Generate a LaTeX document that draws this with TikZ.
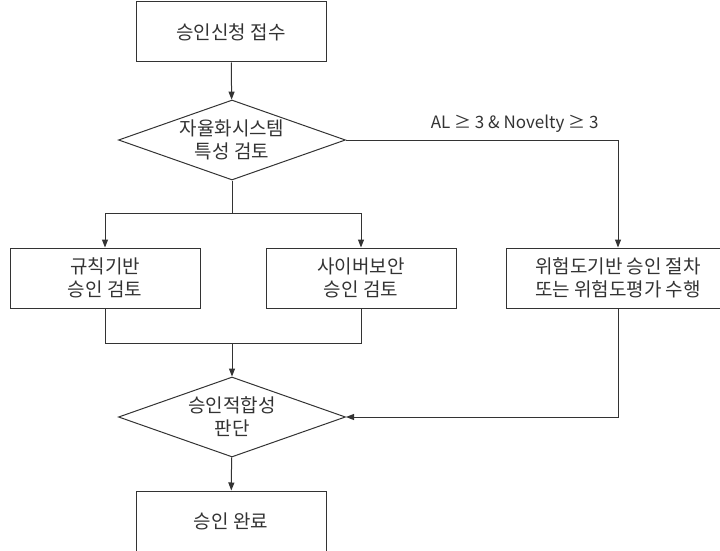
\documentclass[tikz,border=0pt]{standalone}
\usepackage{fontspec}
\setmainfont{Noto Sans CJK KR}
\usetikzlibrary{shapes.geometric,arrows.meta}
\tikzset{
    RA1/.style ={rectangle,minimum width = 190pt, minimum height =60pt, draw, align=center, inner sep=0pt},
    RA2/.style ={rectangle,minimum width = 224pt, minimum height =60pt, draw, align=center, inner sep=0pt},
    DI1/.style ={diamond,aspect=2.84,minimum width = 227pt, minimum height =80pt, draw, align=center, inner sep=0pt},
    AR/.style ={-{Triangle[length=8pt,width=6pt]}},
    LB/.style ={above=4pt,font=\fontsize{17}{20}\selectfont}}

\begin{document}
\begin{tikzpicture}[x=1pt,y=-1pt,line width=1pt,draw=black!80,text=black!80,
    every node/.append style={font=\fontsize{19}{23}\selectfont}]
        \useasboundingbox (0,0) rectangle (720,551);
        \node[RA1] (1) at(231,32){승인신청 접수};
        \node[DI1] (2) at(232,140){자율화시스템\\특성 검토};
        \node[RA1] (3) at(105,278){규칙기반\\승인 검토};
        \node[RA1] (4) at(361,278){사이버보안\\승인 검토};
        \node[RA2] (5) at(618,278){위험도기반 승인 절차\\또는 위험도평가 수행};
        \node[DI1] (6) at(232,417){승인적합성\\판단};
        \node[RA1] (7) at(231,521){승인 완료};
        \coordinate (b) at (232,213);
        \coordinate (m) at (232,343);
        \draw[AR] (1) --(2);
        \draw[AR] (2) -| node[LB,pos=0.31] (t1) {AL ≥ 3 \& Novelty ≥ 3} (5);
        \draw (2) --(b);
        \draw[AR] (b) -|(3);
        \draw[AR] (b) -|(4);
        \draw (3) |-(m);
        \draw (4) |-(m);
        \draw[AR] (m) --(6);
        \draw[AR] (5) |-(6);
        \draw[AR] (6) --(7);
    \end{tikzpicture}
\end{document}
